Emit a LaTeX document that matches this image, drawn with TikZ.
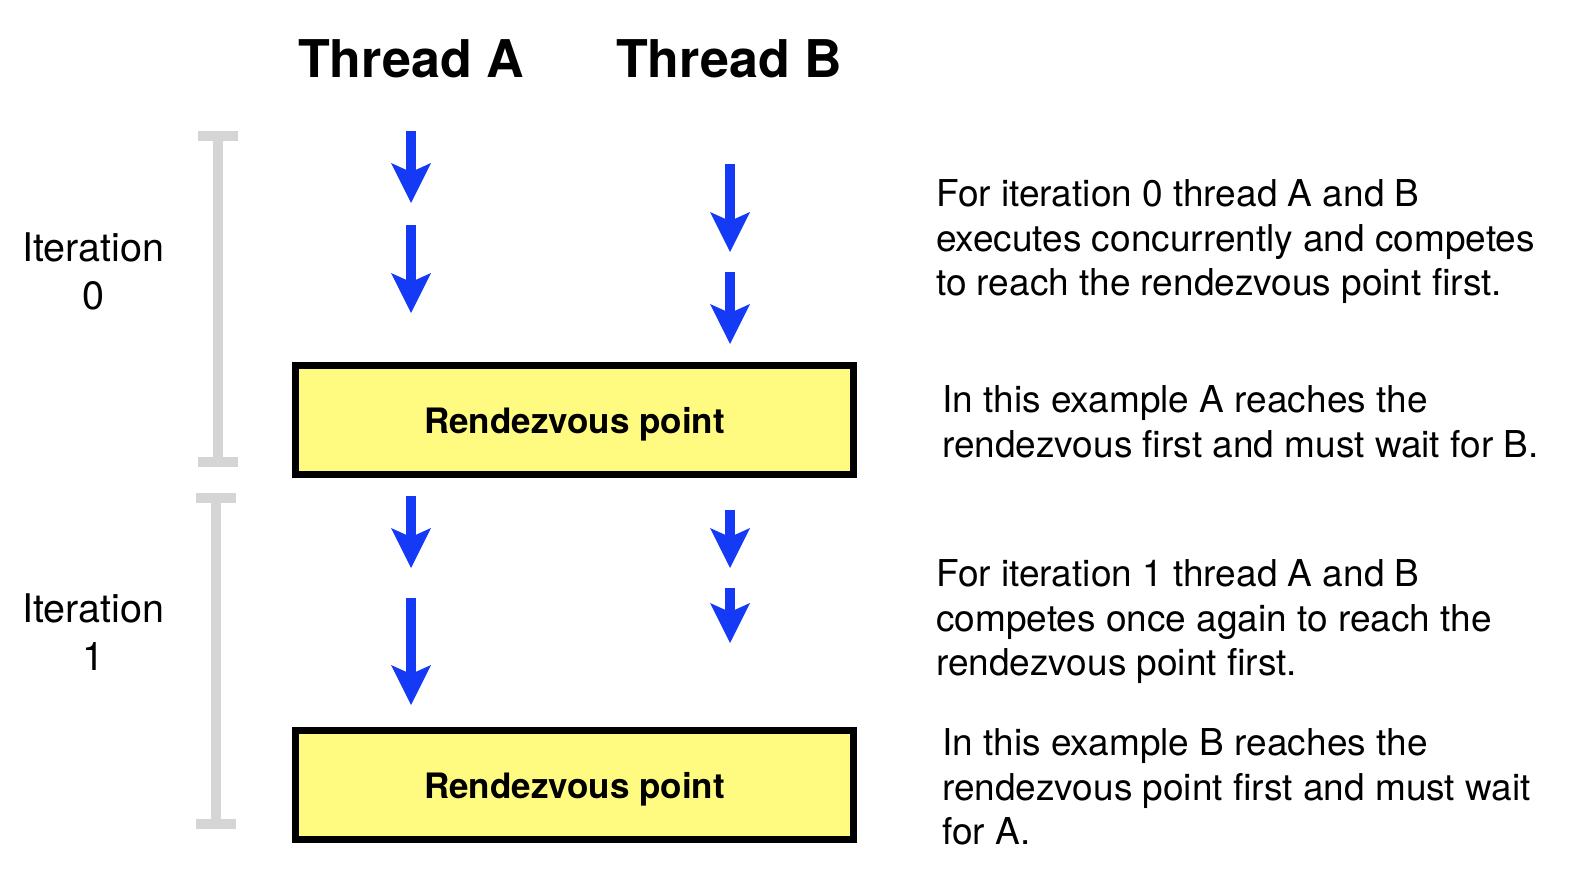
\documentclass[tikz,border=0pt]{standalone}
\usepackage{fontspec}
\setmainfont{TeX Gyre Heros}
\usepackage{tikz}
\usetikzlibrary{positioning,arrows.meta}
\definecolor{arrowblue}{RGB}{20,58,245}
\definecolor{boxyellow}{RGB}{255,250,128}
\definecolor{bargray}{RGB}{213,213,213}
\tikzstyle{rendezvous}=[rectangle, draw=black, line width=6.7pt, fill=boxyellow, text depth=0pt,
        minimum width=558pt, minimum height=109pt, font=\fontsize{35}{42}\selectfont\bfseries]
\tikzstyle{thread}=[font=\fontsize{52}{62}\selectfont\bfseries]
\tikzstyle{iteration}=[align=center, font=\fontsize{39.5}{48}\selectfont]
\tikzstyle{comment}=[anchor=west, align=left, inner sep=0pt, font=\fontsize{37}{44.5}\selectfont]
\tikzstyle{flowarrow}=[draw=arrowblue, line width=10pt,
        -{Stealth[length=40pt, width=40pt, inset=9pt, line width=0pt, fill=arrowblue]}]
\tikzstyle{bracket}=[draw=bargray, line width=10pt]

\begin{document}
\begin{tikzpicture}[x=1pt, y=-1pt]
	\useasboundingbox (0,0) rectangle (1578,886);

	\node (ThreadA) [thread] at (411,59) {Thread A};
	\node (ThreadB) [thread] at (729,59) {Thread B};

	\node (Iteration0) [iteration] at (93,271) {Iteration\\0};
	\node (Iteration1) [iteration] at (93,632) {Iteration\\1};

	\node (Rendezvous0) [rendezvous] at (574.5,420) {Rendezvous point};
	\node (Rendezvous1) [rendezvous] at (574.5,785) {Rendezvous point};

	\node (Comment0) [comment] at (936,242)
        {For iteration 0 thread A and B\\executes concurrently and competes\\to reach the rendezvous point first.};
	\node (Comment1) [comment] at (942,422)
        {In this example A reaches the\\rendezvous first and must wait for B.};
	\node (Comment2) [comment] at (936,622)
        {For iteration 1 thread A and B\\competes once again to reach the\\rendezvous point first.};
	\node (Comment3) [comment] at (942,787)
        {In this example B reaches the\\rendezvous point first and must wait\\for A.};

	% iteration brackets
	\draw[bracket] (198,136) -- (238,136) (218,136) -- (218,462) (198,462) -- (238,462);
	\draw[bracket] (196,498) -- (236,498) (216,498) -- (216,824) (196,824) -- (236,824);

	% iteration 0
	\coordinate (A0aStart) at (411,131);
	\coordinate (A0aEnd) at (411,203);
	\coordinate (A0bStart) at (411,225);
	\coordinate (A0bEnd) at (411,313);
	\coordinate (B0aStart) at (730,164);
	\coordinate (B0aEnd) at (730,252);
	\coordinate (B0bStart) at (730,272);
	\coordinate (B0bEnd) at (730,344);

	% iteration 1
	\coordinate (A1aStart) at (411,496);
	\coordinate (A1aEnd) at (411,568);
	\coordinate (A1bStart) at (411,598);
	\coordinate (A1bEnd) at (411,705);
	\coordinate (B1aStart) at (730,510);
	\coordinate (B1aEnd) at (730,568);
	\coordinate (B1bStart) at (730,588);
	\coordinate (B1bEnd) at (730,643);

\draw[flowarrow] (A0aStart) -- (A0aEnd);
\draw[flowarrow] (A0bStart) -- (A0bEnd);
\draw[flowarrow] (B0aStart) -- (B0aEnd);
\draw[flowarrow] (B0bStart) -- (B0bEnd);

\draw[flowarrow] (A1aStart) -- (A1aEnd);
\draw[flowarrow] (A1bStart) -- (A1bEnd);
\draw[flowarrow] (B1aStart) -- (B1aEnd);
\draw[flowarrow] (B1bStart) -- (B1bEnd);

\end{tikzpicture}
\end{document}
